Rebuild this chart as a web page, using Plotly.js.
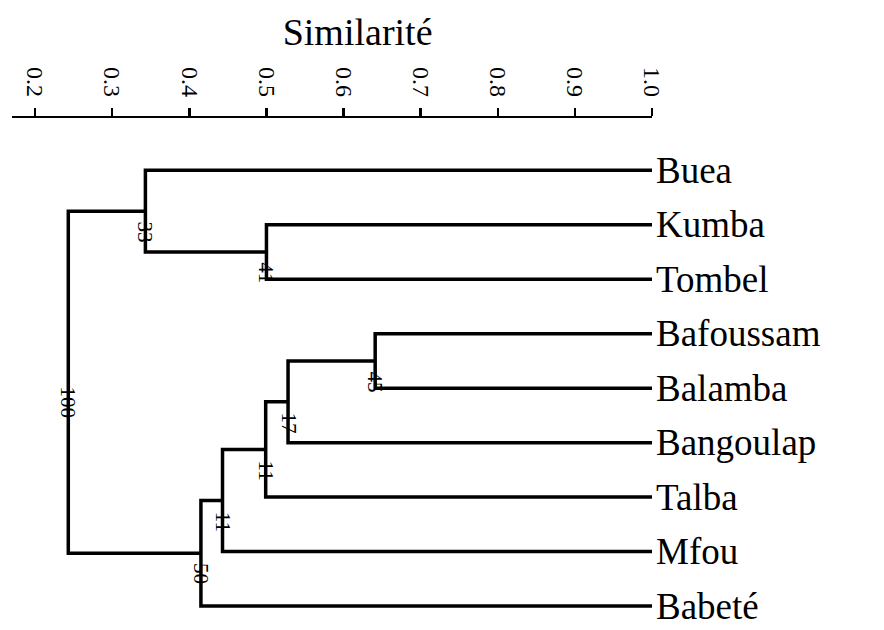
<!DOCTYPE html>
<html>
<head>
<meta charset="utf-8">
<script src="https://cdn.plot.ly/plotly-3.0.1.min.js"></script>
<style>html,body{margin:0;padding:0;background:#fff;}#chart{width:884px;height:630px;}</style>
</head>
<body>
<div id="chart"></div>
<script>
// Leaves (top to bottom)
const leaves = ["Buea","Kumba","Tombel","Bafoussam","Balamba","Bangoulap","Talba","Mfou","Babeté"];
// Merges: indices < 9 are leaves, 9+k is the node created by merge k
const mergeA = [1, 0, 3, 11, 12, 13, 14, 10];
const mergeB = [2, 9, 4, 5, 6, 7, 8, 15];
const mergeSim = [0.50, 0.343, 0.641, 0.528, 0.499, 0.443, 0.415, 0.243];
const bootstrap = [41, 33, 45, 17, 11, 11, 50, 100];
const tickVals = [0.2,0.3,0.4,0.5,0.6,0.7,0.8,0.9,1.0];
const leafSim = 1.0;

const nodeX = [], nodeY = [];
leaves.forEach((l, i) => { nodeX.push(leafSim); nodeY.push(i); });
const lx = [], ly = [];
const annX = [], annY = [], annT = [];
mergeA.forEach((a, k) => {
  const b = mergeB[k], s = mergeSim[k];
  lx.push(nodeX[a], s, s, nodeX[b], null);
  ly.push(nodeY[a], nodeY[a], nodeY[b], nodeY[b], null);
  const y = (nodeY[a] + nodeY[b]) / 2;
  nodeX.push(s); nodeY.push(y);
  annX.push(s); annY.push(y); annT.push(String(bootstrap[k]));
});

const serif = "Liberation Serif, Times New Roman, serif";
const annotations = annX.map((x, i) => ({
  x: x, y: annY[i] + 0.38, xref: 'x', yref: 'y', text: annT[i],
  showarrow: false, textangle: 90, xanchor: 'center', yanchor: 'middle',
  font: {family: serif, size: 21, color: '#000'}
}));
leaves.forEach((name, i) => {
  annotations.push({
    x: leafSim, y: i, xref: 'x', yref: 'y', text: name, showarrow: false,
    xanchor: 'left', yanchor: 'middle', xshift: 2,
    font: {family: serif, size: 37, color: '#000'}
  });
});

const data = [{
  type: 'scatter', mode: 'lines', x: lx, y: ly,
  line: {color: '#000', width: 3.5}, hoverinfo: 'skip', showlegend: false, connectgaps: false
}];

const layout = {
  width: 884, height: 630,
  margin: {l: 12, r: 232, t: 118, b: 0},
  paper_bgcolor: '#fff', plot_bgcolor: '#fff',
  title: {text: 'Similarité', font: {family: serif, size: 38, color: '#000'},
          xref: 'paper', x: 0.54, xanchor: 'center', yref: 'container', y: 0.95, yanchor: 'middle'},
  xaxis: {
    side: 'top', range: [0.17, 1.0], tickvals: tickVals, ticktext: tickVals.map(v => v.toFixed(1)),
    tickangle: 90, ticks: 'outside', ticklen: 8, tickwidth: 2.5, tickcolor: '#000',
    showline: true, linecolor: '#000', linewidth: 2.5, showgrid: false, zeroline: false,
    tickfont: {family: serif, size: 24, color: '#000'}, ticklabelstandoff: 2
  },
  yaxis: {
    range: [8.44, -0.96], showticklabels: false, ticks: '',
    showline: false, showgrid: false, zeroline: false
  },
  annotations: annotations
};

Plotly.newPlot('chart', data, layout, {displayModeBar: false, staticPlot: true});
</script>
</body>
</html>
